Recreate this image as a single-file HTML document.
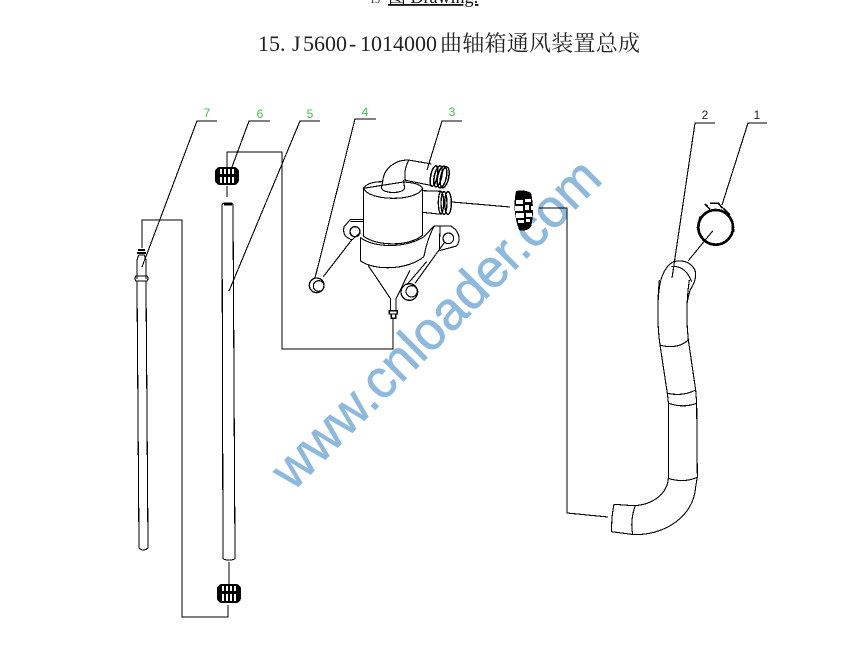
<!DOCTYPE html>
<html><head><meta charset="utf-8"><style>
html,body{margin:0;padding:0;background:#fff;width:867px;height:654px;overflow:hidden}
svg{display:block}
</style></head><body>
<svg xmlns="http://www.w3.org/2000/svg" width="867" height="654" viewBox="0 0 867 654" shape-rendering="crispEdges">
<rect width="867" height="654" fill="#fff"/>
<text x="370" y="3" font-family="'Liberation Serif',serif" font-size="10" fill="#111">15</text>
<text x="388" y="3" font-family="'Liberation Serif','Noto Serif CJK SC',serif" font-size="18" fill="#111" text-decoration="underline">图 Drawing:</text>
<text y="51" x="258 269 280 292 303 314 325 336 349 360 371 382 393 404 415 426" font-family="'Liberation Serif',serif" font-size="22" fill="#222">15.J5600-1014000</text>
<text x="440" y="51" font-family="'Noto Serif CJK SC',serif" font-size="22" fill="#222" textLength="200">曲轴箱通风装置总成</text>

<!-- watermark -->
<text transform="translate(293,492) rotate(-45)" x="0" y="0" font-family="'Liberation Sans',sans-serif" font-size="54" fill="#8cb9dd" stroke="#8cb9dd" stroke-width=".7" textLength="440" lengthAdjust="spacingAndGlyphs">www.cnloader.com</text>

<g fill="none" stroke="#000" stroke-width="1.1">
<!-- leaders -->
<path d="M217 121H197L142 267M270 121H249L232 167M320 121H300L229 291M376 119H355L315 278M462 121H442L427 170M715 123H695L672 278M767 123H748L722 205"/>
<!-- connectors -->
<path d="M142 248V220H182V617H228V605M227 167V152H282V349H393V318M227 186V197M229 562V585M452 202L510 207M539 208H567V513L608 517"/>
<!-- tube 5 -->
<path d="M222 206Q222 203 225 203H231Q233 203 233 206L235 558Q235 560 229 560Q223 560 223 558Z"/>
<path d="M224 204H232" stroke-width="2.5"/>
<!-- tube 7 -->
<path d="M137 279V262Q137 258 139 255H144Q146 258 146 262V279M136 276Q134 278 136 281H147Q149 278 147 276ZM137 281L139 548Q143 552 148 548L146 281"/>
<path d="M138 250H145M137 253H146" stroke-width="2"/>
</g>

<!-- nuts -->
<g fill="#fff" stroke="none">
<g>
<rect x="215" y="167" width="24" height="18" rx="5" fill="#000"/>
<path d="M220 169h2v5h-2zM224 169h2v5h-2zM228 169h2v5h-2zM232 169h2v5h-2zM220 177h2v6h-2zM224 177h2v6h-2zM228 177h2v6h-2zM232 177h2v6h-2z"/>
</g>
<g>
<rect x="217" y="584" width="24" height="19" rx="5" fill="#000"/>
<path d="M222 586h2v5h-2zM226 586h2v5h-2zM230 586h2v5h-2zM234 586h2v5h-2zM222 594h2v7h-2zM226 594h2v7h-2zM230 594h2v7h-2zM234 594h2v7h-2z"/>
</g>
<g>
<path d="M516 191Q524 189 531 193Q535 210 531 227Q526 232 519 230Q512 210 516 191Z" fill="#000"/>
<path d="M516 200h7v4h-7zM525 199h6v3h-6zM515 206h8v5h-8zM525 205h4v5h-4zM531 206h2v4h-2zM516 213h8v5h-8zM526 213h6v4h-6zM518 220h6v3h-6zM526 219h4v3h-4z"/>
</g>
</g>

<!-- filter assembly -->
<g transform="translate(300,100) scale(.33333)" fill="none" stroke="#000" stroke-width="3.3">
<path d="M190 265C200 250 225 245 248 245M310 246C340 248 360 252 368 265C350 305 210 305 190 265ZM190 265V410M368 265V408"/>
<path d="M181 412V482C220 512 320 512 372 470M181 412C220 445 320 445 372 410M190 408C230 440 330 440 368 405"/>
<path d="M205 497L272 597M330 510L288 597M272 597V630M288 597V630"/>
<path d="M268 632H292V642H268ZM274 642V655H287V642" stroke-width="4"/>
<path d="M248 245C250 210 280 180 325 180L395 192M316 240C312 215 318 195 327 180M312 240L392 256M248 245L244 264C250 282 310 282 314 264L310 240"/>
<g stroke-width="4.5">
<ellipse cx="402" cy="228" rx="10" ry="31" transform="rotate(12 402 228)"/>
<ellipse cx="414" cy="229" rx="11" ry="32" transform="rotate(12 414 229)"/>
<ellipse cx="426" cy="231" rx="13" ry="33" transform="rotate(12 426 231)"/>
<ellipse cx="434" cy="232" rx="12" ry="32" transform="rotate(12 434 232)"/>
</g>
<path d="M368 272L425 274M368 337L425 343"/>
<g stroke-width="4">
<ellipse cx="423" cy="308" rx="8" ry="33"/>
<ellipse cx="432" cy="309" rx="9" ry="34"/>
<ellipse cx="444" cy="309" rx="10" ry="34"/>
</g>
<path d="M190 358H152L132 380Q128 400 138 410L155 420L181 398M152 364H190"/>
<ellipse cx="165" cy="395" rx="15" ry="15" stroke-width="4"/>
<path d="M372 470C378 430 392 400 402 378H452C475 390 485 415 470 438L418 452M420 380L418 450"/>
<path d="M402 378L372 410"/>
<ellipse cx="445" cy="415" rx="16" ry="16" stroke-width="3.5"/>
<path d="M155 420L70 530M380 485L320 555M435 425L345 550"/>
<circle cx="50" cy="556" r="22" stroke-width="4"/>
<circle cx="56" cy="558" r="16"/>
<circle cx="328" cy="576" r="25" stroke-width="4"/>
<circle cx="335" cy="574" r="17"/>
</g>

<!-- clamp and upper hose -->
<g transform="translate(590,100) scale(.33333)" fill="none" stroke="#000" stroke-width="3.3">
<path d="M205 600Q207 510 250 485Q295 475 315 510Q322 540 300 570L293 600M245 500Q285 495 305 545M295 482L368 393"/>
<circle cx="377" cy="382" r="52" stroke-width="8"/>
<path d="M345 312L360 328M360 310H385L398 325M400 325L420 345M330 350L322 385M425 365L432 395" stroke-width="5"/>
</g>

<!-- lower hose -->
<g transform="translate(550,290) scale(.33333)" fill="none" stroke="#000" stroke-width="3.3">
<path d="M328 -30Q318 80 330 165L352 310L356 345L355 565C352 610 310 645 250 647L192 643Q184 680 185 725L245 733C340 740 432 680 437 590L442 560L440 340L437 300L415 150Q405 60 418 -30"/>
<path d="M330 165Q380 180 415 150M352 310Q400 320 437 300M356 340Q400 355 440 340M355 565Q400 580 442 562M256 647Q240 690 248 733"/>
</g>

<!-- labels -->
<g font-family="'Liberation Sans',sans-serif" font-size="12" text-anchor="middle">
<text x="207" y="117" fill="#3fc24a">7</text>
<text x="260" y="118" fill="#3fc24a">6</text>
<text x="310" y="118" fill="#3fc24a">5</text>
<text x="365" y="116" fill="#3fc24a">4</text>
<text x="452" y="116" fill="#3fc24a">3</text>
<text x="705" y="119" fill="#222">2</text>
<text x="757" y="119" fill="#222">1</text>
</g>
</svg>
</body></html>
